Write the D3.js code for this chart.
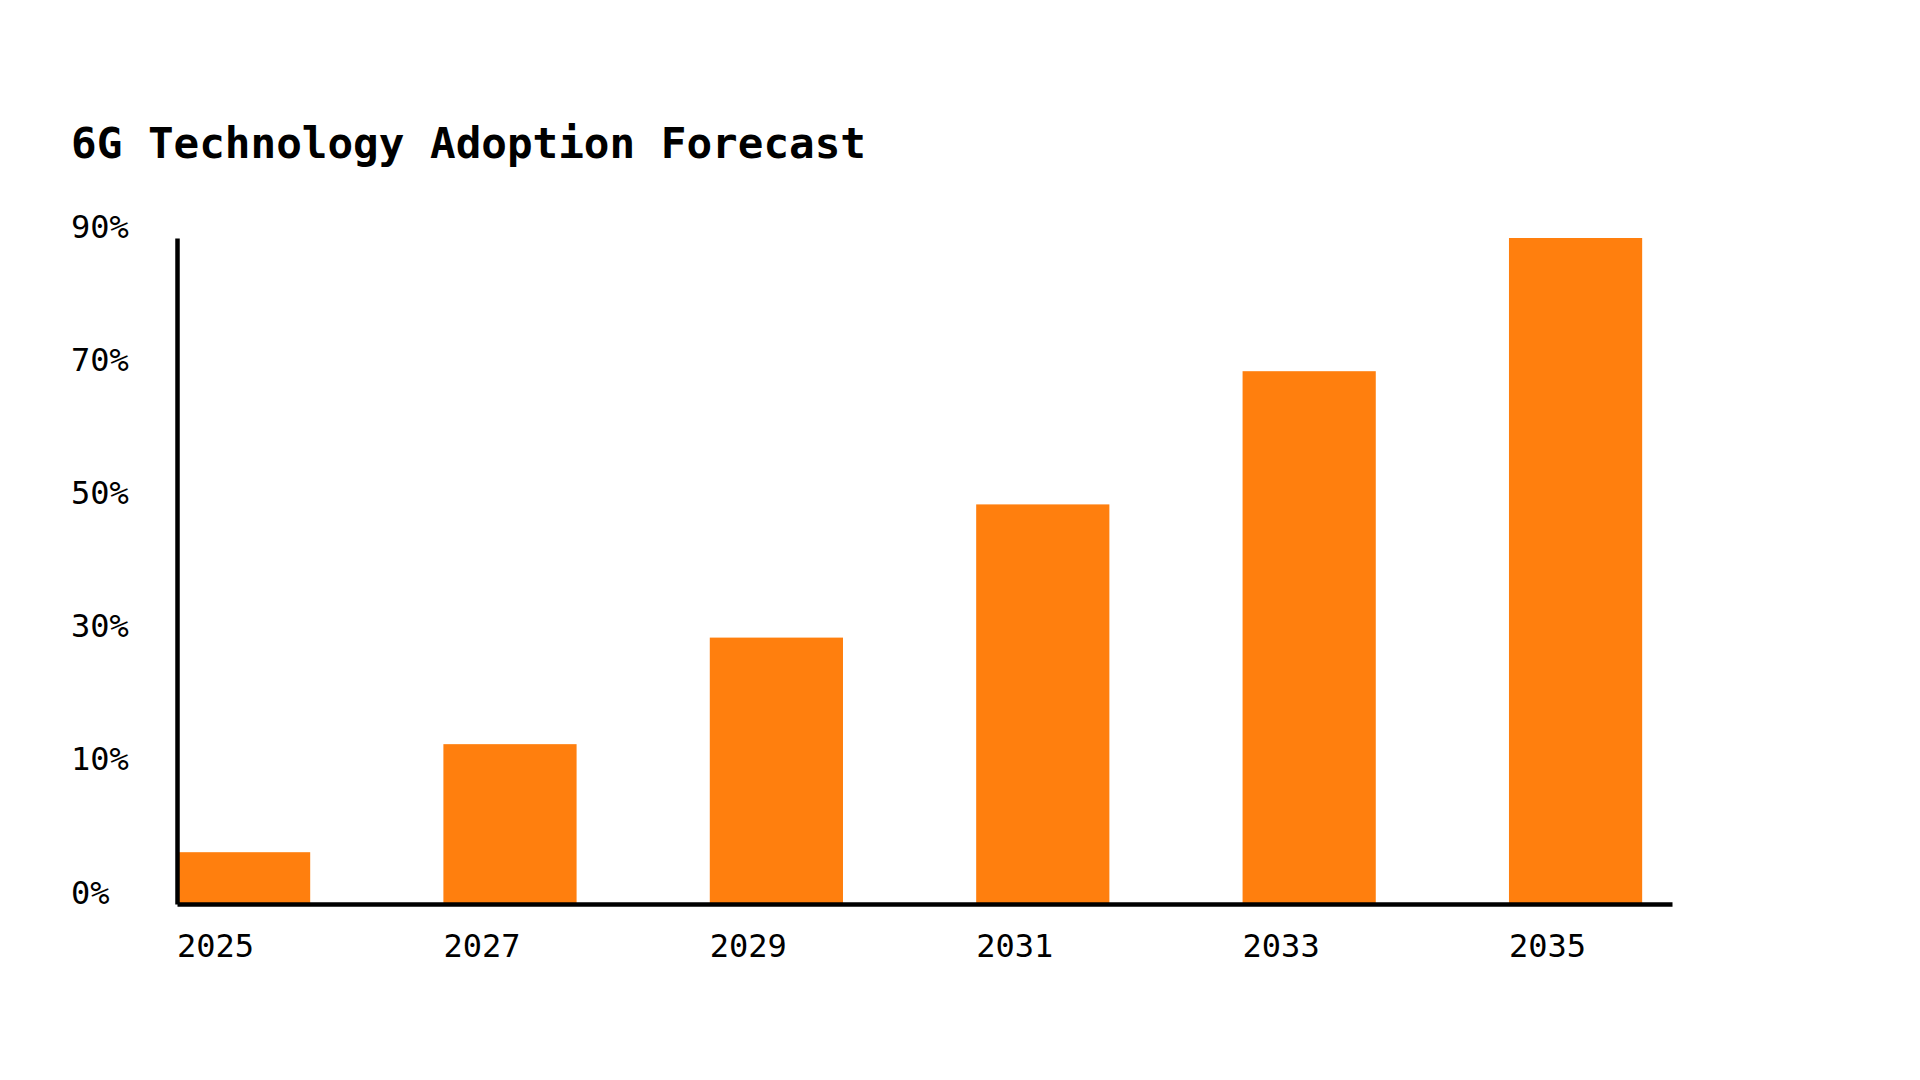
<!DOCTYPE html>
<html>
<head>
<meta charset="utf-8">
<script src="https://cdn.jsdelivr.net/npm/d3@7"></script>
<style>
  html, body { margin: 0; padding: 0; background: #ffffff; }
  svg { display: block; }
</style>
</head>
<body>
<svg id="chart" width="1920" height="1080"></svg>
<script>
const title = "6G Technology Adoption Forecast";
const years = ["2025", "2027", "2029", "2031", "2033", "2035"];
const adoption = [7, 21.6, 36, 54, 72, 90];
const yTickValues = [0, 18, 36, 54, 72, 90];
const yTickLabels = ["0%", "10%", "30%", "50%", "70%", "90%"];

const W = 1920, H = 1080;
const margin = { left: 177, right: 248, top: 238, bottom: 176 };
const innerW = W - margin.left - margin.right;
const innerH = H - margin.top - margin.bottom;
const font = "'DejaVu Sans Mono', 'Liberation Mono', monospace";

const svg = d3.select("#chart");
svg.append("rect").attr("width", W).attr("height", H).attr("fill", "#ffffff");

svg.append("text")
  .attr("x", 71).attr("y", 158)
  .attr("font-family", font).attr("font-size", 42.6).attr("font-weight", "bold")
  .attr("fill", "#000").text(title);

const g = svg.append("g").attr("transform", `translate(${margin.left},${margin.top})`);

const x = d3.scaleBand().domain(years).range([0, innerW])
  .paddingInner(0.5).paddingOuter(0.056).align(0);
const y = d3.scaleLinear().domain([0, 90]).range([innerH, 0]);

const data = years.map((yr, i) => ({ year: yr, value: adoption[i] }));

g.selectAll("rect.bar").data(data).join("rect")
  .attr("class", "bar")
  .attr("x", d => x(d.year))
  .attr("width", x.bandwidth())
  .attr("y", d => y(d.value))
  .attr("height", d => y(0) - y(d.value))
  .attr("fill", "#ff7f0e");

// Y axis
const yAxis = g.append("g")
  .call(d3.axisLeft(y).tickValues(yTickValues)
    .tickFormat((d, i) => yTickLabels[i]).tickSize(0).tickSizeOuter(0));
yAxis.select(".domain").attr("stroke", "#000").attr("stroke-width", 4.5);
yAxis.selectAll("text")
  .attr("x", 71 - margin.left).attr("dy", "-1").attr("text-anchor", "start")
  .attr("font-family", font).attr("font-size", 32).attr("fill", "#000");

// X axis
const xAxis = g.append("g").attr("transform", `translate(0,${innerH})`)
  .call(d3.axisBottom(x).tickSize(0).tickSizeOuter(0));
xAxis.select(".domain").attr("stroke", "#000").attr("stroke-width", 4.5);
xAxis.selectAll("text")
  .attr("x", -x.bandwidth() / 2).attr("y", 53).attr("dy", "0")
  .attr("text-anchor", "start")
  .attr("font-family", font).attr("font-size", 32).attr("fill", "#000");
</script>
</body>
</html>
